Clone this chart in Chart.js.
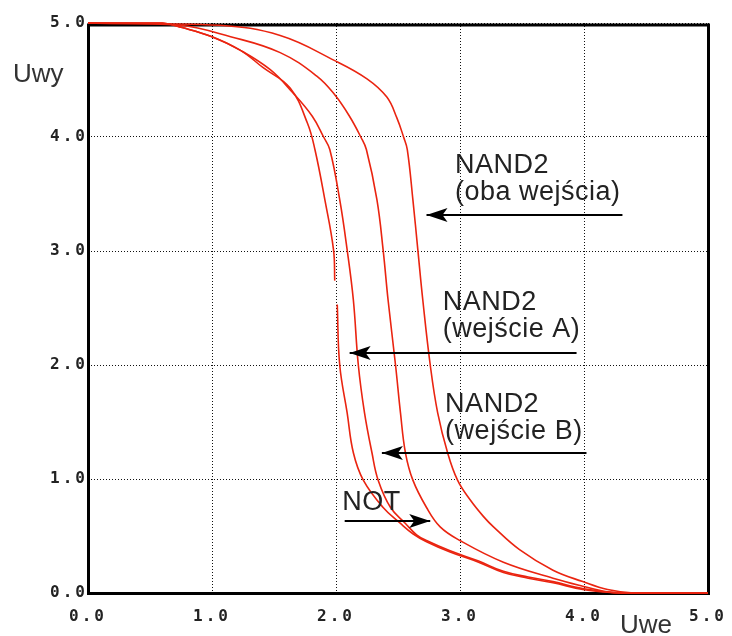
<!DOCTYPE html>
<html>
<head>
<meta charset="utf-8">
<script src="https://cdn.jsdelivr.net/npm/chart.js@4.4.0/dist/chart.umd.min.js"></script>
<style>
  body { margin: 0; background: #fff; }
  canvas { display: block; }
</style>
</head>
<body>
<canvas id="transferChart" width="732" height="636"></canvas>
<script>
// Transfer characteristics Uwy(Uwe), volts
const notX = [0, 0.6, 0.76, 1.0, 1.23, 1.41, 1.63, 1.77, 1.83, 1.91, 1.98, 1.99, 2.0, 2.01, 2.03, 2.09, 2.14, 2.22, 2.38, 2.52, 2.62, 2.73, 2.92, 3.15, 3.35, 3.55, 3.75, 3.99, 4.15, 4.3, 5.0];
const notY = [5, 5, 4.96, 4.88, 4.76, 4.61, 4.43, 4.12, 3.89, 3.45, 3.01, 2.74, null, 2.53, 2.0, 1.58, 1.23, 0.99, 0.75, 0.61, 0.52, 0.45, 0.36, 0.27, 0.18, 0.13, 0.09, 0.03, 0.01, 0, 0];

const nandAX = [0, 0.6, 0.76, 1.0, 1.23, 1.47, 1.65, 1.81, 1.9, 1.95, 2.03, 2.09, 2.14, 2.18, 2.23, 2.29, 2.34, 2.44, 2.56, 2.65, 2.73, 2.92, 3.15, 3.35, 3.55, 3.75, 3.99, 4.3, 5.0];
const nandAY = [5, 5, 4.96, 4.88, 4.76, 4.59, 4.39, 4.18, 4.0, 3.89, 3.45, 3.01, 2.57, 2.0, 1.58, 1.23, 0.99, 0.75, 0.61, 0.51, 0.46, 0.37, 0.28, 0.19, 0.14, 0.1, 0.04, 0, 0];

const nandBX = [0, 0.74, 1.15, 1.55, 1.85, 1.99, 2.11, 2.2, 2.245, 2.33, 2.38, 2.42, 2.48, 2.52, 2.56, 2.62, 2.73, 2.84, 3.0, 3.35, 3.75, 3.99, 4.19, 4.37, 5.0];
const nandBY = [5, 4.98, 4.88, 4.74, 4.53, 4.37, 4.18, 4.0, 3.89, 3.45, 3.01, 2.57, 2.0, 1.58, 1.23, 0.99, 0.75, 0.58, 0.46, 0.27, 0.13, 0.06, 0.01, 0, 0];

const bothX = [0, 1.06, 1.55, 1.99, 2.25, 2.41, 2.49, 2.545, 2.575, 2.62, 2.66, 2.70, 2.76, 2.82, 2.90, 2.98, 3.08, 3.19, 3.27, 3.48, 3.75, 3.99, 4.19, 4.4, 5.0];
const bothY = [5, 4.98, 4.89, 4.67, 4.51, 4.35, 4.17, 4.0, 3.89, 3.45, 3.01, 2.57, 2.0, 1.58, 1.23, 0.99, 0.82, 0.67, 0.58, 0.38, 0.2, 0.1, 0.03, 0, 0];

const axisTicks = [0, 1, 2, 3, 4, 5];

// labels with arrows, placed in axis units
const notes = [
  { lines: ['NAND2', '(oba wejścia)'], tx: 2.96, ty: 3.68, from: 4.31, to: 2.73, ay: 3.32 },
  { lines: ['NAND2', '(wejście A)'], tx: 2.86, ty: 2.48, from: 3.94, to: 2.11, ay: 2.105 },
  { lines: ['NAND2', '(wejście B)'], tx: 2.88, ty: 1.59, from: 4.02, to: 2.37, ay: 1.228 },
  { lines: ['NOT'], tx: 2.05, ty: 0.73, from: 2.07, to: 2.76, ay: 0.632 }
];

const RED = '#ea2410';

function points(xs, ys) {
  return xs.map((x, i) => ({ x: x, y: ys[i] }));
}

function curve(xs, ys) {
  return {
    data: points(xs, ys),
    showLine: true,
    borderColor: RED,
    borderWidth: 1.6,
    pointRadius: 0,
    tension: 0.4,
    spanGaps: false,
    clip: false
  };
}

const framePlugin = {
  id: 'frame',
  beforeDraw(chart) {
    chart.ctx.letterSpacing = '3px';
  },
  beforeDatasetsDraw(chart) {
    const { ctx, chartArea: a } = chart;
    ctx.save();
    ctx.letterSpacing = '0px';
    ctx.strokeStyle = '#000';
    ctx.lineWidth = 3;
    ctx.strokeRect(a.left + 0.5, a.top + 2, a.right - a.left, a.bottom - a.top - 1.5);
    ctx.fillStyle = '#333';
    ctx.font = '26px "Liberation Sans", Arial, sans-serif';
    ctx.textBaseline = 'alphabetic';
    ctx.fillText('Uwy', a.left - 75, a.top + 59);
    ctx.fillText('Uwe', a.right - 88, a.bottom + 40);
    ctx.restore();
  }
};

const notesPlugin = {
  id: 'gateNotes',
  afterDatasetsDraw(chart) {
    const { ctx, scales: { x, y } } = chart;
    ctx.save();
    ctx.font = '27px "Liberation Sans", Arial, sans-serif';
    ctx.textBaseline = 'alphabetic';
    ctx.letterSpacing = '0.5px';
    notes.forEach(n => {
      const px = x.getPixelForValue(n.tx);
      let py = y.getPixelForValue(n.ty);
      ctx.fillStyle = '#222';
      n.lines.forEach(t => {
        ctx.fillText(t, px, py);
        py += 27;
      });
      const x0 = x.getPixelForValue(n.from);
      const x1 = x.getPixelForValue(n.to);
      const ay = Math.round(y.getPixelForValue(n.ay));
      ctx.strokeStyle = '#000';
      ctx.lineWidth = 2;
      ctx.beginPath();
      ctx.moveTo(x0, ay);
      ctx.lineTo(x1, ay);
      ctx.stroke();
      // notched head at the pointing end
      const d = Math.sign(x0 - x1);
      ctx.fillStyle = '#000';
      ctx.beginPath();
      ctx.moveTo(x1, ay);
      ctx.lineTo(x1 + d * 21, ay - 7);
      ctx.lineTo(x1 + d * 16, ay);
      ctx.lineTo(x1 + d * 21, ay + 7);
      ctx.closePath();
      ctx.fill();
    });
    ctx.restore();
  }
};

const tickFont = { family: '"DejaVu Sans Mono", monospace', size: 16, weight: 'bold' };

function axis(extra) {
  return Object.assign({
    type: 'linear',
    min: 0,
    max: 5,
    afterBuildTicks: s => { s.ticks = axisTicks.map(v => ({ value: v })); },
    grid: { color: '#111', lineWidth: 1, drawTicks: false },
    border: { display: false, dash: [1, 2] }
  }, extra);
}

new Chart(document.getElementById('transferChart'), {
  type: 'scatter',
  data: {
    datasets: [
      curve(notX, notY),
      curve(nandAX, nandAY),
      curve(nandBX, nandBY),
      curve(bothX, bothY)
    ]
  },
  options: {
    responsive: false,
    animation: false,
    layout: { padding: { top: 23, right: 24, left: 0, bottom: 0 } },
    plugins: { legend: { display: false }, tooltip: { enabled: false } },
    scales: {
      x: axis({
        position: 'bottom',
        ticks: { padding: 14, font: tickFont, color: '#222', maxRotation: 0, autoSkip: false, callback: v => v.toFixed(1) },
        afterFit: s => { s.height = 43; s.paddingLeft = 0; s.paddingRight = 0; }
      }),
      y: axis({
        position: 'left',
        ticks: { padding: 0, font: tickFont, color: '#222', callback: v => v.toFixed(1) },
        afterFit: s => { s.width = 88; s.paddingTop = 0; s.paddingBottom = 0; }
      })
    }
  },
  plugins: [framePlugin, notesPlugin]
});
</script>
</body>
</html>
